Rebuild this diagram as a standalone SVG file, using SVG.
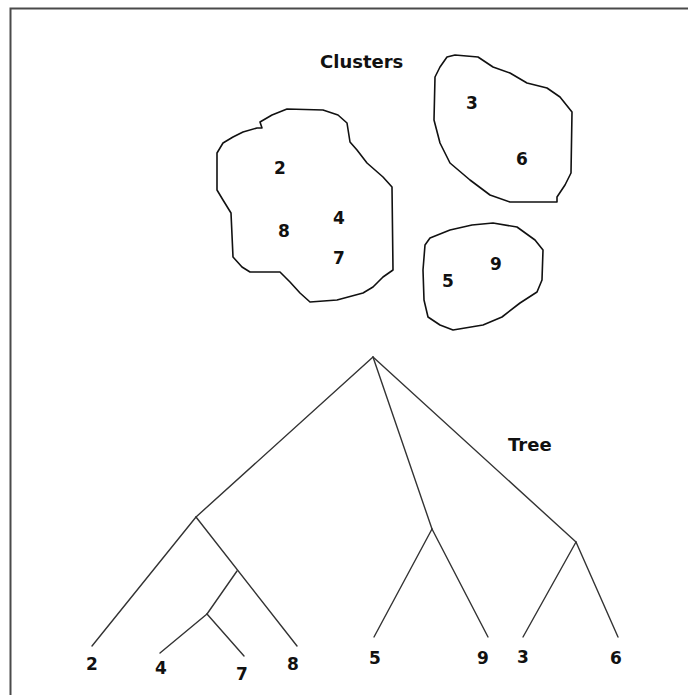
<svg xmlns="http://www.w3.org/2000/svg" width="688" height="695" viewBox="0 0 688 695">
  <style>
    .frame { fill: none; stroke: #4a4a4a; stroke-width: 2; }
    .blob { fill: none; stroke: #111; stroke-width: 1.6; stroke-linejoin: round; }
    .edge { fill: none; stroke: #333; stroke-width: 1.4; stroke-linecap: round; }
    .lbl { font-family: "DejaVu Sans", "Liberation Sans", sans-serif; font-weight: bold; font-size: 17px; fill: #111; text-anchor: middle; }
    .title { font-family: "DejaVu Sans", "Liberation Sans", sans-serif; font-weight: bold; font-size: 18px; fill: #111; }
  </style>
  <rect width="688" height="695" fill="#fff"/>
  <!-- outer frame, open to the right and bottom -->
  <path class="frame" d="M10.5 695 V8.5 H688"/>

  <text class="title" x="320" y="68">Clusters</text>
  <text class="title" x="508" y="451">Tree</text>

  <!-- cluster {2, 8, 4, 7} -->
  <g id="cluster-a">
    <path class="blob" d="M262 128 L260 122 L272 115 L287 109 L323 110 L338 115 L347 123 L350 142 L357 150 L367 163 L383 177 L392 187 L393 270 L383 277 L373 287 L363 293 L337 300 L310 302 L300 293 L290 282 L280 272 L250 272 L242 267 L233 257 L231 213 L223 200 L217 190 L217 153 L223 143 L233 137 L243 132 L257 128 Z"/>
    <text class="lbl" x="280" y="174">2</text>
    <text class="lbl" x="284" y="237">8</text>
    <text class="lbl" x="339" y="224">4</text>
    <text class="lbl" x="339" y="264">7</text>
  </g>

  <!-- cluster {3, 6} -->
  <g id="cluster-b">
    <path class="blob" d="M440 67 L447 57 L455 55 L478 57 L493 67 L510 73 L527 83 L547 88 L560 97 L572 112 L571 173 L565 185 L557 197 L557 202 L510 202 L490 195 L470 180 L450 163 L440 143 L434 120 L435 77 Z"/>
    <text class="lbl" x="472" y="109">3</text>
    <text class="lbl" x="522" y="165">6</text>
  </g>

  <!-- cluster {5, 9} -->
  <g id="cluster-c">
    <path class="blob" d="M425 245 L430 238 L450 230 L472 225 L493 223 L517 227 L535 240 L543 250 L542 280 L537 292 L520 303 L502 317 L483 325 L453 330 L440 325 L428 317 L424 300 L423 270 Z"/>
    <text class="lbl" x="448" y="287">5</text>
    <text class="lbl" x="496" y="270">9</text>
  </g>

  <!-- tree edges -->
  <g id="edges">
    <line class="edge" x1="373" y1="357" x2="196" y2="517"/>
    <line class="edge" x1="373" y1="357" x2="432" y2="529"/>
    <line class="edge" x1="373" y1="357" x2="576" y2="542"/>
    <line class="edge" x1="196" y1="517" x2="92" y2="646"/>
    <line class="edge" x1="196" y1="517" x2="297" y2="646"/>
    <line class="edge" x1="237" y1="571" x2="207" y2="614"/>
    <line class="edge" x1="207" y1="614" x2="160" y2="653"/>
    <line class="edge" x1="207" y1="614" x2="244" y2="656"/>
    <line class="edge" x1="432" y1="529" x2="374" y2="637"/>
    <line class="edge" x1="432" y1="529" x2="488" y2="637"/>
    <line class="edge" x1="576" y1="542" x2="523" y2="637"/>
    <line class="edge" x1="576" y1="542" x2="618" y2="637"/>
  </g>

  <!-- leaves -->
  <g id="leaf-2"><text class="lbl" x="92" y="670">2</text></g>
  <g id="leaf-4"><text class="lbl" x="161" y="674">4</text></g>
  <g id="leaf-7"><text class="lbl" x="242" y="680">7</text></g>
  <g id="leaf-8"><text class="lbl" x="293" y="670">8</text></g>
  <g id="leaf-5"><text class="lbl" x="375" y="664">5</text></g>
  <g id="leaf-9"><text class="lbl" x="483" y="664">9</text></g>
  <g id="leaf-3"><text class="lbl" x="523" y="663">3</text></g>
  <g id="leaf-6"><text class="lbl" x="616" y="664">6</text></g>
</svg>
